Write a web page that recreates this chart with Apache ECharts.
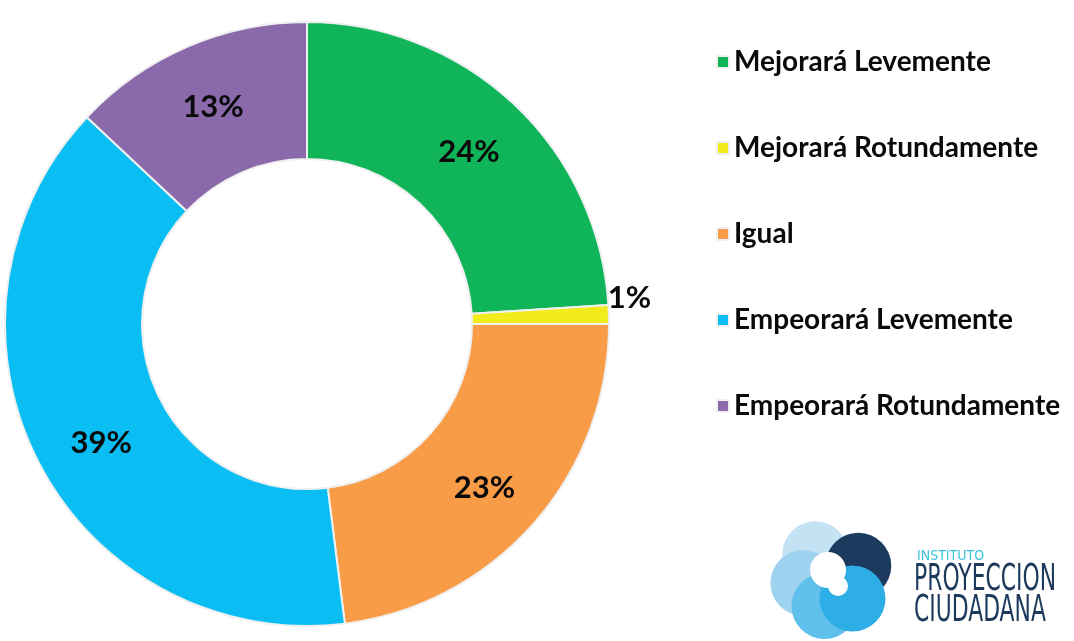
<!DOCTYPE html>
<html>
<head>
<meta charset="utf-8">
<title>Expectativa</title>
<script src="https://cdn.jsdelivr.net/npm/echarts@6/dist/echarts.min.js"></script>
<style>
    html, body { margin: 0; padding: 0; background: #fff; }
    #chart1 { width: 1074px; height: 641px; }
</style>
</head>
<body>
<div id="chart1"></div>
<script>
// 数据
var categories = ['Mejorará Levemente', 'Mejorará Rotundamente', 'Igual', 'Empeorará Levemente', 'Empeorará Rotundamente'];
var percentValues = [24, 1, 23, 39, 13];
var sliceColors = ['#10b55a', '#f2ec1c', '#f89c48', '#0abef4', '#8a6aaa'];

var fontName = 'Lato, "Open Sans", sans-serif';
var logoFont = '"DejaVu Sans Condensed", "DejaVu Sans", sans-serif';

// logo (abajo a la derecha)
function logoGraphic() {
    var cx = 832, cy = 578;
    var petals = [
        { a: -125, c: '#c3e2f3' },
        { a: 170, c: '#9ed2ef' },
        { a: 105, c: '#5fc0ec' },
        { a: -25, c: '#1b3a5e' },
        { a: 45, c: '#2eaee6' }
    ];
    var items = [];
    for (var i = 0; i < petals.length; i++) {
        var a = petals[i].a * Math.PI / 180;
        items.push({
            type: 'circle',
            shape: { cx: cx + Math.cos(a) * 29, cy: cy + Math.sin(a) * 29, r: 33 },
            style: { fill: petals[i].c }
        });
    }
    // remolino blanco
    items.push({ type: 'circle', shape: { cx: cx - 4, cy: cy - 8, r: 18 }, style: { fill: '#fff' } });
    items.push({ type: 'circle', shape: { cx: cx + 6, cy: cy + 8, r: 10 }, style: { fill: '#fff' } });

    items.push({
        type: 'text', x: 917, y: 556,
        style: { text: 'INSTITUTO', fill: '#3cc3dc', font: '14px ' + logoFont, verticalAlign: 'middle' }
    });
    items.push({
        type: 'text', x: 914, y: 580, scaleX: 0.64,
        style: { text: 'PROYECCION', fill: '#1d3a5c', font: '38px ' + logoFont, verticalAlign: 'middle' }
    });
    items.push({
        type: 'text', x: 914, y: 611, scaleX: 0.64,
        style: { text: 'CIUDADANA', fill: '#1d3a5c', font: '38px ' + logoFont, verticalAlign: 'middle' }
    });
    return items;
}

var myChart1 = echarts.init(document.getElementById('chart1'));

var pieData = [];
for (var i = 0; i < categories.length; i++) {
    var item = {
        value: percentValues[i],
        name: categories[i],
        itemStyle: { color: sliceColors[i] }
    };
    if (percentValues[i] < 3) {
        item.label = { position: 'outside', distanceToLabelLine: 0 };
        item.labelLine = { show: false, length: 2, length2: 0 };
    }
    pieData.push(item);
}

var option1 = {
    backgroundColor: '#fff',
    animation: false,
    legend: {
        orient: 'vertical',
        left: 716,
        top: 48,
        padding: 0,
        itemWidth: 12,
        itemHeight: 12,
        itemGap: 58,
        icon: 'rect',
        data: categories,
        textStyle: { fontFamily: fontName, fontWeight: 'bold', fontSize: 28, lineHeight: 28, color: '#0a0a0a' }
    },
    graphic: logoGraphic(),
    series: [
        {
            name: 'Expectativa',
            type: 'pie',
            center: [307, 324],
            radius: [165, 302],
            startAngle: 90,
            clockwise: true,
            avoidLabelOverlap: false,
            itemStyle: { borderColor: '#f0f0f0', borderWidth: 2 },
            label: {
                show: true,
                position: 'inside',
                formatter: '{c}%',
                fontFamily: fontName,
                fontWeight: 'bold',
                fontSize: 31,
                color: '#0a0a0a'
            },
            labelLayout: function (params) {
                if (params.dataIndex === 1) {
                    return { dy: -16, dx: -3 };
                }
                if (params.dataIndex === 3) {
                    return { dy: 12, dx: 5 };
                }
                if (params.dataIndex === 2) {
                    return { dy: 8 };
                }
                return {};
            },
            data: pieData
        }
    ]
};

myChart1.setOption(option1);
</script>
</body>
</html>
